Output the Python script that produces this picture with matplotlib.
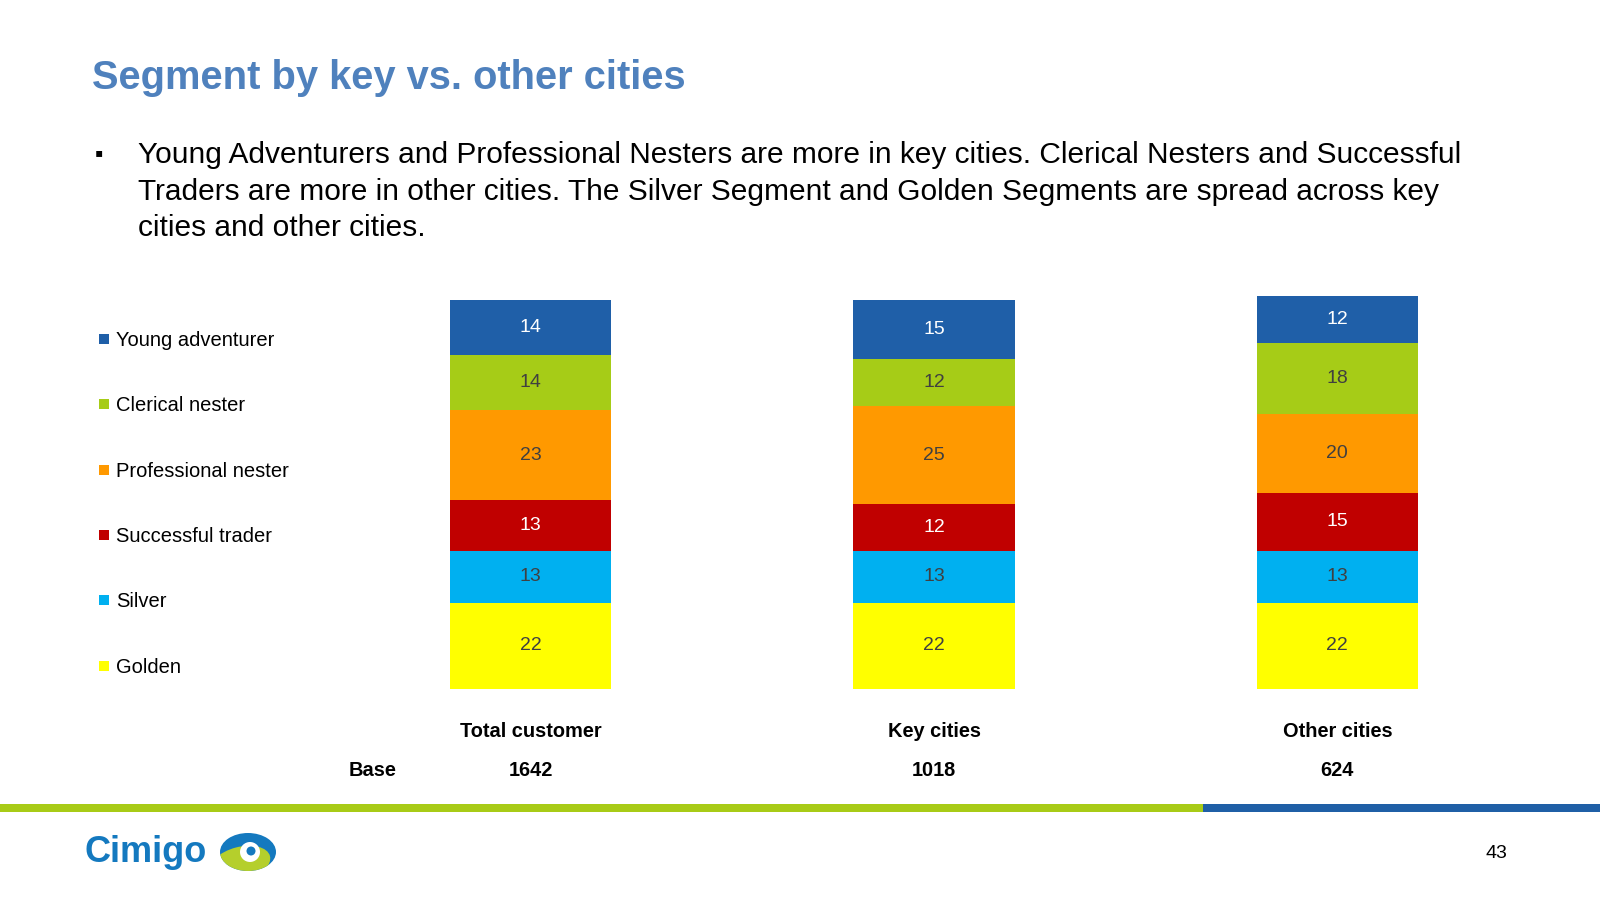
import matplotlib.pyplot as plt
import numpy as np
from matplotlib.patches import Ellipse, Circle, Rectangle
from matplotlib.lines import Line2D

plt.rcParams["font.family"] = ["Liberation Sans", "DejaVu Sans"]

# data
groups = ["Total customer", "Key cities", "Other cities"]
bases = [1642, 1018, 624]
segments = ["Golden", "Silver", "Successful trader", "Professional nester",
            "Clerical nester", "Young adventurer"]
golden = [22, 22, 22]
silver = [13, 13, 13]
successful = [13, 12, 15]
professional = [23, 25, 20]
clerical = [14, 12, 18]
young = [14, 15, 12]
values = [golden, silver, successful, professional, clerical, young]
colors = ["#FFFF00", "#00B0F0", "#C00000", "#FF9900", "#A6CC17", "#1F5FA8"]
text_colors = ["#404040", "#404040", "white", "#404040", "#404040", "white"]

W, H = 1600, 900
fig = plt.figure(figsize=(16, 9), dpi=100)

# title and bullet text
fig.text(92 / W, 1 - 78 / H, "Segment by key vs. other cities", color="#4F81BD",
         fontsize=28.7, fontweight="bold", va="center", ha="left")
bullet_lines = [
    "Young Adventurers and Professional Nesters are more in key cities. Clerical Nesters and Successful",
    "Traders are more in other cities. The Silver Segment and Golden Segments are spread across key",
    "cities and other cities.",
]
fig.text(95 / W, 1 - 154 / H, "\u25aa", fontsize=17, va="center", ha="left", color="black")
for i, line in enumerate(bullet_lines):
    fig.text(138 / W, 1 - (155 + i * 36.5) / H, line, fontsize=21.5,
             va="center", ha="left", color="black")

# chart
ax = fig.add_axes([329 / W, (H - 689) / H, 1210 / W, 393 / H])
x = np.arange(len(groups))
bottom = np.zeros(len(groups))
for seg, vals, col, tc in zip(segments, values, colors, text_colors):
    ax.bar(x, vals, width=0.4, bottom=bottom, color=col, label=seg, linewidth=0)
    for xi, v, bt in zip(x, vals, bottom):
        ax.text(xi, bt + v / 2, str(v), ha="center", va="center",
                fontsize=14, color=tc)
    bottom = bottom + np.array(vals)

ax.set_xlim(-0.5, 2.5)
ax.set_ylim(0, 100)
ax.axis("off")

for xi, g, b in zip(x, groups, bases):
    ax.text(xi, -0.109, g, transform=ax.get_xaxis_transform(), ha="center",
            va="center", fontsize=14.4, fontweight="bold")
    ax.text(xi, -0.208, str(b), transform=ax.get_xaxis_transform(), ha="center",
            va="center", fontsize=14.4, fontweight="bold")
fig.text(373 / W, 1 - 771 / H, "Base", ha="center", va="center",
         fontsize=14.4, fontweight="bold")

# legend
handles = [Line2D([], [], marker="s", linestyle="", markersize=7,
                  markerfacecolor=c, markeredgewidth=0) for c in colors]
fig.legend(handles[::-1], segments[::-1], loc="upper left",
           bbox_to_anchor=(98 / W, 1 - 331 / H), frameon=False,
           fontsize=14.5, labelspacing=2.3, handlelength=0.6,
           handletextpad=0.3, borderaxespad=0, borderpad=0)

# footer bars
fig.add_artist(Rectangle((0, 1 - 812 / H), 1203 / W, 8 / H, transform=fig.transFigure,
                         color="#A8CB17", linewidth=0))
fig.add_artist(Rectangle((1203 / W, 1 - 812 / H), 1 - 1203 / W, 8 / H,
                         transform=fig.transFigure, color="#1F5FA6", linewidth=0))
fig.text(1496 / W, 1 - 853 / H, "43", fontsize=14, ha="center", va="center")

# logo
fig.text(85 / W, 1 - 852 / H, "Cimigo", fontsize=26, fontweight="bold",
         color="#1479BF", ha="left", va="center")
lax = fig.add_axes([216 / W, 1 - 874 / H, 64 / W, 44 / H])
lax.set_xlim(-32, 32)
lax.set_ylim(-22, 22)
lax.set_aspect("equal")
lax.axis("off")
eye = Ellipse((0, 0), 56, 38, color="#1479BF", linewidth=0)
lax.add_patch(eye)
green = Ellipse((-8, -12), 62, 34, angle=15, color="#B5CF2C", linewidth=0)
green.set_clip_path(eye)
lax.add_patch(green)
lax.add_patch(Circle((2, 0), 10, color="white", linewidth=0))
lax.add_patch(Circle((3, 1), 4.5, color="#1479BF", linewidth=0))

fig.savefig("out.png", dpi=100)
